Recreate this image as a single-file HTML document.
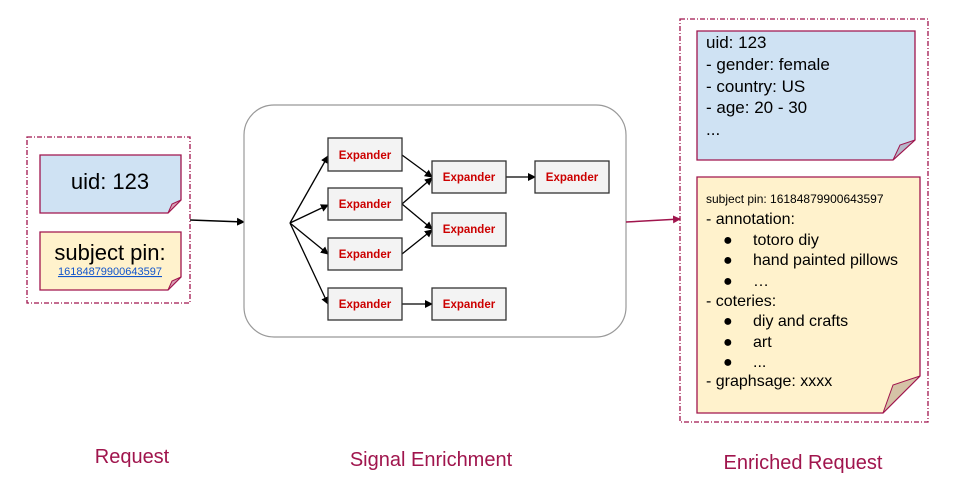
<!DOCTYPE html>
<html><head><meta charset="utf-8"><style>
html,body{margin:0;padding:0;background:#fff;}
svg{display:block;font-family:"Liberation Sans",Arial,sans-serif;}
</style></head><body>
<svg width="957" height="485" viewBox="0 0 957 485" xmlns="http://www.w3.org/2000/svg">
<defs>
<marker id="ab" markerWidth="8" markerHeight="8" refX="7" refY="4" orient="auto" markerUnits="userSpaceOnUse"><path d="M0,0 L8,4 L0,8 Z" fill="#000"/></marker>
<marker id="ar" markerWidth="8" markerHeight="8" refX="7" refY="4" orient="auto" markerUnits="userSpaceOnUse"><path d="M0,0 L8,4 L0,8 Z" fill="#a0154d"/></marker>
</defs>
<!-- left request -->
<rect x="27" y="137" width="163" height="166" fill="none" stroke="#a0154d" stroke-width="1.3" stroke-dasharray="5,2,1,2"/>
<path d="M40,155 H181 V200 L168,213 H40 Z" fill="#cfe2f3" stroke="#a0154d" stroke-width="1.3"/>
<path d="M181,200 L168,213 L172,204 Z" fill="#d9a0b5" stroke="#a0154d" stroke-width="1"/>
<text x="110" y="189" font-size="22" text-anchor="middle" fill="#000">uid: 123</text>
<path d="M40,232 H181 V277 L168,290 H40 Z" fill="#fff2cc" stroke="#a0154d" stroke-width="1.3"/>
<path d="M181,277 L168,290 L172,281 Z" fill="#d9a0b5" stroke="#a0154d" stroke-width="1"/>
<text x="110" y="260" font-size="22" text-anchor="middle" fill="#000">subject pin:</text>
<text x="110" y="275" font-size="11" text-anchor="middle" fill="#1155cc" text-decoration="underline">16184879900643597</text>
<line x1="190" y1="220" x2="244" y2="222" stroke="#000" stroke-width="1.5" marker-end="url(#ab)"/>
<!-- middle -->
<rect x="244" y="105" width="382" height="232" rx="30" fill="#fff" stroke="#999" stroke-width="1.2"/>
<g stroke="#000" stroke-width="1.3" fill="none">
<line x1="290" y1="223" x2="328" y2="156" marker-end="url(#ab)"/>
<line x1="290" y1="223" x2="328" y2="205" marker-end="url(#ab)"/>
<line x1="290" y1="223" x2="328" y2="254" marker-end="url(#ab)"/>
<line x1="290" y1="223" x2="328" y2="304" marker-end="url(#ab)"/>
<line x1="402" y1="155" x2="432" y2="177" marker-end="url(#ab)"/>
<line x1="402" y1="204" x2="432" y2="178" marker-end="url(#ab)"/>
<line x1="402" y1="204" x2="432" y2="229" marker-end="url(#ab)"/>
<line x1="402" y1="254" x2="432" y2="230" marker-end="url(#ab)"/>
<line x1="402" y1="304" x2="432" y2="304" marker-end="url(#ab)"/>
<line x1="506" y1="177" x2="535" y2="177" marker-end="url(#ab)"/>
</g>
<g fill="#f3f3f3" stroke="#333" stroke-width="1.3">
<rect x="328" y="138" width="74" height="33"/>
<rect x="328" y="188" width="74" height="32"/>
<rect x="328" y="238" width="74" height="32"/>
<rect x="328" y="288" width="74" height="32"/>
<rect x="432" y="161" width="74" height="32"/>
<rect x="432" y="213" width="74" height="33"/>
<rect x="432" y="288" width="74" height="32"/>
<rect x="535" y="161" width="74" height="32"/>
</g>
<g fill="#cc0000" font-size="11.5" font-weight="bold" text-anchor="middle">
<text x="365" y="159">Expander</text>
<text x="365" y="208">Expander</text>
<text x="365" y="258">Expander</text>
<text x="365" y="308">Expander</text>
<text x="469" y="181">Expander</text>
<text x="469" y="233">Expander</text>
<text x="469" y="308">Expander</text>
<text x="572" y="181">Expander</text>
</g>
<line x1="626" y1="222" x2="680" y2="219" stroke="#a0154d" stroke-width="1.5" marker-end="url(#ar)"/>
<!-- right -->
<rect x="680" y="19" width="248" height="403" fill="none" stroke="#a0154d" stroke-width="1.3" stroke-dasharray="5,2,1,2"/>
<path d="M697,31 H915 V140 L893,160 H697 Z" fill="#cfe2f3" stroke="#a0154d" stroke-width="1.3"/>
<path d="M915,140 L893,160 L900,145 Z" fill="#b7b7c9" stroke="#a0154d" stroke-width="1"/>
<g font-size="17" fill="#000">
<text x="706" y="48">uid: 123</text>
<text x="706" y="70">- gender: female</text>
<text x="706" y="92">- country: US</text>
<text x="706" y="113">- age: 20 - 30</text>
<text x="706" y="135">...</text>
</g>
<path d="M697,177 H920 V376 L883,413 H697 Z" fill="#fff2cc" stroke="#a0154d" stroke-width="1.3"/>
<path d="M920,376 L883,413 L893,385 Z" fill="#d5c2a6" stroke="#a0154d" stroke-width="1"/>
<text x="706" y="203" font-size="12" fill="#000">subject pin: 16184879900643597</text>
<g font-size="16" fill="#000">
<text x="706" y="224">- annotation:</text>
<text x="723" y="245">●</text><text x="753" y="245">totoro diy</text>
<text x="723" y="265">●</text><text x="753" y="265">hand painted pillows</text>
<text x="723" y="286">●</text><text x="753" y="286">…</text>
<text x="706" y="306">- coteries:</text>
<text x="723" y="326">●</text><text x="753" y="326">diy and crafts</text>
<text x="723" y="347">●</text><text x="753" y="347">art</text>
<text x="723" y="367">●</text><text x="753" y="367">...</text>
<text x="706" y="386">- graphsage: xxxx</text>
</g>
<g font-size="20" fill="#a0154d" text-anchor="middle">
<text x="132" y="463">Request</text>
<text x="431" y="466">Signal Enrichment</text>
<text x="803" y="469">Enriched Request</text>
</g>
</svg>
</body></html>
